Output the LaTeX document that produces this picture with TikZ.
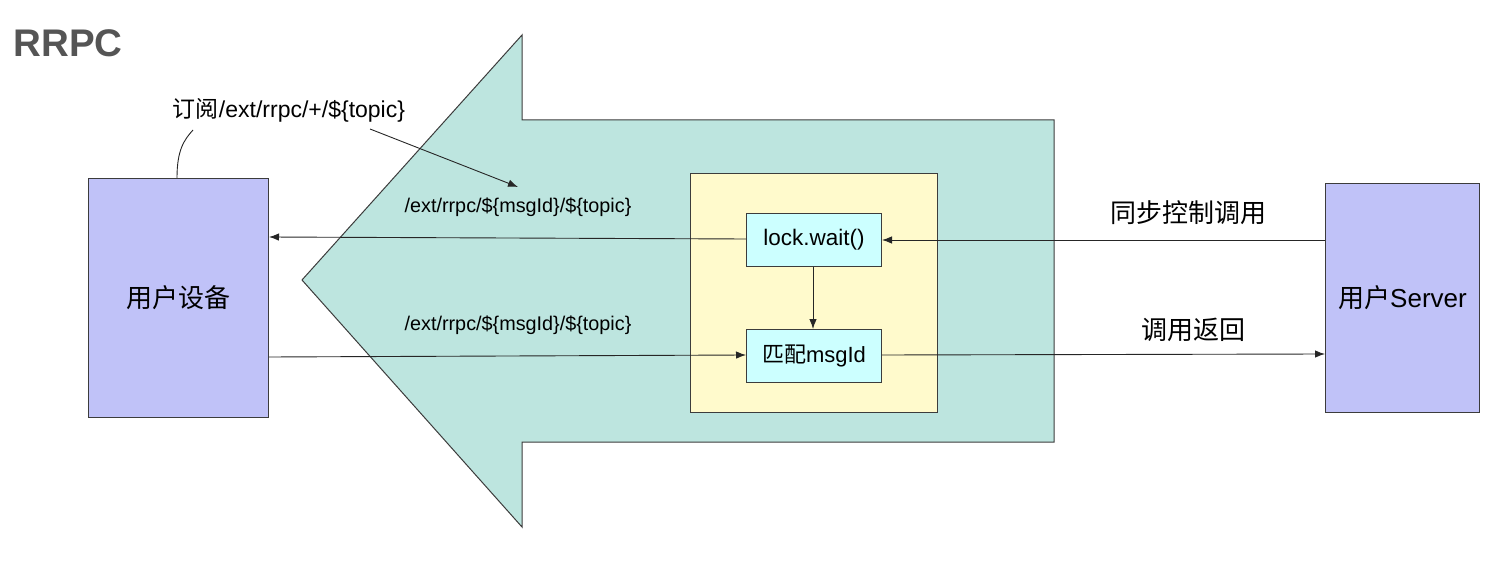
\documentclass[tikz,border=0pt]{standalone}
\usepackage{fontspec}
\setmainfont{Liberation Sans}
\newfontfamily\cjk{Noto Sans CJK SC}
\usetikzlibrary{arrows.meta}
\definecolor{teal}{RGB}{189,229,223}
\definecolor{purp}{RGB}{192,194,248}
\definecolor{yel}{RGB}{255,250,204}
\definecolor{cyanb}{RGB}{204,255,255}
\definecolor{edge}{RGB}{60,60,60}
\definecolor{titlegray}{RGB}{85,85,85}
\begin{document}
\begin{tikzpicture}[x=1pt,y=-1pt,
  box/.style={draw=edge,line width=1pt,inner sep=0pt,anchor=north west},
  conn/.style={draw=black!85,line width=0.9pt,-{Latex[length=10pt,width=7.5pt]}},
  plainline/.style={draw=black!85,line width=0.9pt},
  lbl/.style={inner sep=0pt,font=\fontsize{19.8}{22}\selectfont},
  big/.style={inner sep=0pt,font=\fontsize{26}{29}\selectfont\cjk}]
\useasboundingbox (0,0) rectangle (1500,580);
% big arrow
\draw[fill=teal,draw=edge,line width=1pt] (302,280) -- (522,35) -- (522,120) -- (1054,120) -- (1054,442) -- (522,442) -- (522,527) -- cycle;
% boxes
\node[box,fill=purp,minimum width=180pt,minimum height=239pt] (dev) at (88,178) {};
\node[big] at (dev.center) {用户设备};
\node[box,fill=purp,minimum width=154pt,minimum height=229pt] (srv) at (1325,183) {};
\node[big] at (srv.center) {用户\fontspec{Liberation Sans}Server};
\node[box,fill=yel,minimum width=247pt,minimum height=239pt] (yb) at (690,173) {};
\node[box,fill=cyanb,minimum width=135pt,minimum height=53pt] (lock) at (746,213) {};
\node[inner sep=0pt,font=\fontsize{22.5}{25}\selectfont] at (lock.center) {lock.wait()};
\node[box,fill=cyanb,minimum width=135pt,minimum height=53pt] (match) at (746,329) {};
\node[inner sep=0pt,font=\fontsize{22}{25}\selectfont] at (match.center) {{\cjk 匹配}msgId};
% title
\node[inner sep=0pt,font=\fontsize{38.5}{42}\selectfont\bfseries,text=titlegray] (title) at (68,43) {RRPC};
% labels
\node[lbl,font=\fontsize{23}{26}\selectfont] (sub) at (289,110) {{\cjk 订阅}/ext/rrpc/+/\$\{topic\}};
\node[lbl] (t1) at (518,207) {/ext/rrpc/\$\{msgId\}/\$\{topic\}};
\node[lbl] (t2) at (518,325) {/ext/rrpc/\$\{msgId\}/\$\{topic\}};
\node[big] (c1) at (1188,213) {同步控制调用};
\node[big] (c2) at (1193,330) {调用返回};
% connectors
\coordinate (subfoot) at (193,130);
\coordinate (subend) at (370,129);
\coordinate (subtip) at (518,187);
\draw[plainline] (dev.north -| 177,0) .. controls (177,150) and (184,140) .. (subfoot);
\draw[conn] (subend) -- (subtip);
\draw[conn] (srv.west |- 0,240) -- (lock.east |- 0,240);
\draw[conn] (lock.west |- 0,239) -- (dev.east |- 0,237);
\draw[conn] (lock.south -| 813,0) -- (match.north -| 813,0);
\draw[conn] (dev.east |- 0,357) -- (match.west |- 0,355);
\draw[conn] (match.east |- 0,355) -- (srv.west |- 0,354);
\end{tikzpicture}
\end{document}
